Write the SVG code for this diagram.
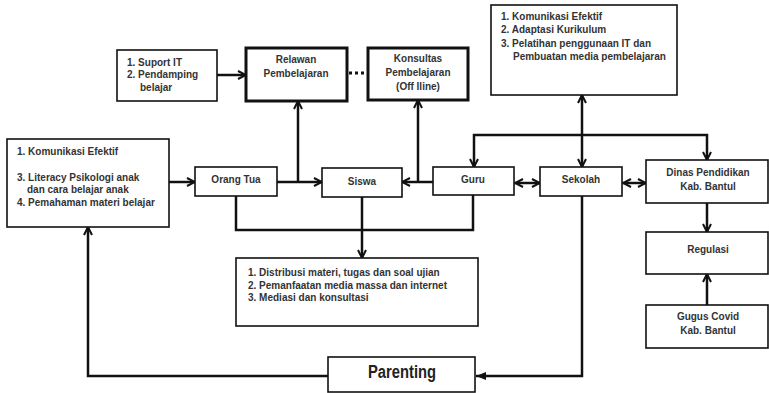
<svg xmlns="http://www.w3.org/2000/svg" width="769" height="393" viewBox="0 0 769 393">
<style>
.box{fill:#fff;stroke:#111;stroke-width:1.6}
.thick{fill:#fff;stroke:#111;stroke-width:3}
text{font-family:"Liberation Sans",Arial,sans-serif;font-weight:bold;font-size:10px;fill:#333}
.c{text-anchor:middle}
.ln{fill:none;stroke:#111;stroke-width:2.5}
.a{marker-end:url(#ar)}
.s{marker-start:url(#as)}
</style>
<defs>
<marker id="ar" viewBox="0 0 10 10" refX="9" refY="5" markerWidth="4" markerHeight="4" orient="auto" markerUnits="strokeWidth">
<path d="M1,1 L9,5 L1,9" fill="none" stroke="#111" stroke-width="2"/>
</marker>
<marker id="as" viewBox="0 0 10 10" refX="1" refY="5" markerWidth="4" markerHeight="4" orient="auto" markerUnits="strokeWidth">
<path d="M9,1 L1,5 L9,9" fill="none" stroke="#111" stroke-width="2"/>
</marker>
<marker id="af" viewBox="0 0 10 10" refX="10" refY="5" markerWidth="4" markerHeight="4" orient="auto" markerUnits="strokeWidth">
<path d="M0,1 L10,5 L0,9 Z" fill="#111"/>
</marker>
</defs>
<g id="connectors">
<line class="ln a" x1="217" y1="75" x2="246" y2="75"/>
<line x1="349" y1="73" x2="367" y2="73" stroke="#111" stroke-width="3" stroke-dasharray="3,3"/>
<line class="ln a" x1="169" y1="182" x2="195" y2="182"/>
<line class="ln a" x1="277" y1="182" x2="322" y2="182"/>
<line class="ln a" x1="298" y1="182" x2="298" y2="101"/>
<line class="ln a" x1="433" y1="182" x2="402" y2="182"/>
<line class="ln a" x1="418" y1="182" x2="418" y2="100"/>
<line class="ln a s" x1="515" y1="183" x2="540" y2="183"/>
<line class="ln a s" x1="623" y1="183" x2="646" y2="183"/>
<polyline class="ln a" points="582,135 474,135 474,167"/>
<polyline class="ln a" points="582,135 707,135 707,160"/>
<line class="ln a s" x1="582" y1="167" x2="582" y2="95"/>
<line class="ln a" x1="707" y1="203" x2="707" y2="232"/>
<line class="ln a" x1="707" y1="305" x2="707" y2="274"/>
<polyline class="ln" points="236,196 236,230 473,230 473,195"/>
<line class="ln a" x1="362" y1="197" x2="362" y2="258"/>
<polyline class="ln" points="582,196 582,376 476,376" marker-end="url(#af)"/>
<polyline class="ln a" points="328,376 88,376 88,227"/>
</g>
<g id="suport">
<rect class="box" x="117" y="50" width="100" height="51"/>
<text x="127" y="66">1. Suport IT</text>
<text x="127" y="78">2. Pendamping</text>
<text x="140" y="91">belajar</text>
</g>
<g id="relawan">
<rect class="thick" x="246" y="48" width="101" height="53"/>
<text class="c" x="296" y="63">Relawan</text>
<text class="c" x="296" y="77">Pembelajaran</text>
</g>
<g id="konsultas">
<rect class="thick" x="368" y="48" width="100" height="52"/>
<text class="c" x="418" y="62">Konsultas</text>
<text class="c" x="418" y="76">Pembelajaran</text>
<text class="c" x="418" y="90">(Off lline)</text>
</g>
<g id="sekolah-info">
<rect class="box" x="491" y="5" width="186" height="90"/>
<text x="501" y="20">1. Komunikasi Efektif</text>
<text x="501" y="33">2. Adaptasi Kurikulum</text>
<text x="501" y="47">3. Pelatihan penggunaan IT dan</text>
<text x="513" y="60">Pembuatan media pembelajaran</text>
</g>
<g id="ortu-info">
<rect class="box" x="7" y="139" width="162" height="88"/>
<text x="17" y="155">1. Komunikasi Efektif</text>
<text x="17" y="181">3. Literacy Psikologi anak</text>
<text x="27" y="193">dan cara belajar anak</text>
<text x="17" y="206">4. Pemahaman materi belajar</text>
</g>
<g id="orangtua">
<rect class="box" x="195" y="167" width="82" height="29"/>
<text class="c" x="236" y="183">Orang Tua</text>
</g>
<g id="siswa">
<rect class="box" x="322" y="168" width="80" height="29"/>
<text class="c" x="362" y="185">Siswa</text>
</g>
<g id="guru">
<rect class="box" x="433" y="167" width="81" height="28"/>
<text class="c" x="473" y="183">Guru</text>
</g>
<g id="sekolah">
<rect class="box" x="540" y="167" width="82" height="29"/>
<text class="c" x="581" y="183">Sekolah</text>
</g>
<g id="dinas">
<rect class="box" x="646" y="160" width="122" height="43"/>
<text class="c" x="708" y="176">Dinas Pendidikan</text>
<text class="c" x="708" y="190">Kab. Bantul</text>
</g>
<g id="regulasi">
<rect class="box" x="646" y="232" width="122" height="42"/>
<text class="c" x="708" y="253">Regulasi</text>
</g>
<g id="gugus">
<rect class="box" x="646" y="305" width="122" height="43"/>
<text class="c" x="708" y="320">Gugus Covid</text>
<text class="c" x="708" y="334">Kab. Bantul</text>
</g>
<g id="distribusi">
<rect class="box" x="236" y="258" width="242" height="68"/>
<text x="248" y="276">1. Distribusi materi, tugas dan soal ujian</text>
<text x="248" y="289">2. Pemanfaatan media massa dan internet</text>
<text x="248" y="301">3. Mediasi dan konsultasi</text>
</g>
<g id="parenting">
<rect class="box" x="328" y="357" width="147" height="35"/>
<text class="c" x="402" y="378" style="font-size:18px;fill:#222" textLength="68" lengthAdjust="spacingAndGlyphs">Parenting</text>
</g>
</svg>
